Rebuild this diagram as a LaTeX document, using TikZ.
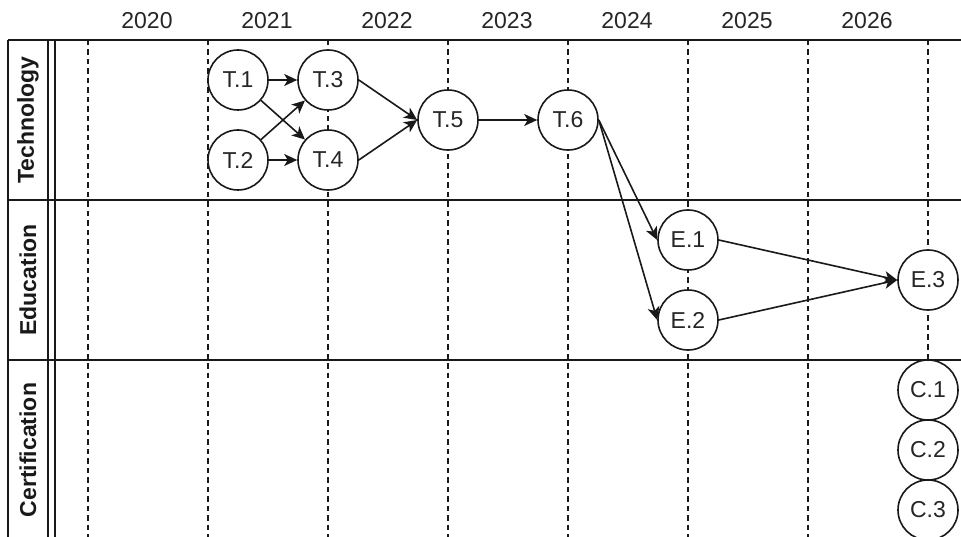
\documentclass[tikz,border=0pt]{standalone}
\usepackage{fontspec}
\setmainfont{Liberation Sans}
\usetikzlibrary{arrows.meta}
\tikzset{
  gridline/.style={line width=1.7pt, draw=black!90},
  yearline/.style={line width=1.4pt, draw=black!90, dash pattern=on 5.5pt off 4pt},
  yearlabel/.style={font=\fontsize{23}{27}\selectfont, text=black!85},
  lanelabel/.style={rotate=90, font=\bfseries\fontsize{23}{27}\selectfont, text=black!90},
  task/.style={circle, draw=black!90, line width=1.6pt, fill=white, minimum size=60pt, inner sep=0pt, font=\fontsize{23}{27}\selectfont, text=black!85},
  conn/.style={line width=1.6pt, draw=black!90, -{Stealth[length=13pt,width=12pt,inset=3.5pt]}}
}
\begin{document}
\begin{tikzpicture}[x=1pt,y=-1pt]
\useasboundingbox (0,0) rectangle (961,537);
% year dashed lines
\foreach \i in {0,...,7} {
  \draw[yearline] (88+120*\i,40) -- (88+120*\i,537);
}
% year labels
\foreach \yr [count=\i from 0] in {2020,2021,2022,2023,2024,2025,2026} {
  \node[yearlabel] (y\yr) at (147+120*\i,20.5) {\yr};
}
% frame
\draw[gridline] (8,40) -- (961,40);
\draw[gridline] (8,200) -- (961,200);
\draw[gridline] (8,360) -- (961,360);
\draw[gridline] (8,40) -- (8,537);
\draw[gridline] (48,40) -- (48,537);
\draw[gridline] (55,40) -- (55,537);
% lane labels
\node[lanelabel] (lt) at (28,120) {Technology};
\node[lanelabel] (le) at (28,280) {Education};
\node[lanelabel] (lc) at (28,450) {Certification};
% tasks
\node[task] (t1) at (238,80) {T.1};
\node[task] (t2) at (238,160) {T.2};
\node[task] (t3) at (328,80) {T.3};
\node[task] (t4) at (328,160) {T.4};
\node[task] (t5) at (448,120) {T.5};
\node[task] (t6) at (568,120) {T.6};
\node[task] (e1) at (688,240) {E.1};
\node[task] (e2) at (688,320) {E.2};
\node[task] (e3) at (928,280) {E.3};
\node[task] (c1) at (928,390) {C.1};
\node[task] (c2) at (928,450) {C.2};
\node[task] (c3) at (928,510) {C.3};
% connectors
\draw[conn] (t1.east) -- (t3.west);
\draw[conn] (t1) -- (t4);
\draw[conn] (t2) -- (t3);
\draw[conn] (t2.east) -- (t4.west);
\draw[conn] (t3.east) -- (t5.west);
\draw[conn] (t4.east) -- (t5.west);
\draw[conn] (t5) -- (t6);
\draw[conn] (t6.east) -- (e1.west);
\draw[conn] (t6.east) -- (e2.west);
\draw[conn] (e1.east) -- (e3.west);
\draw[conn] (e2.east) -- (e3.west);
\end{tikzpicture}
\end{document}
